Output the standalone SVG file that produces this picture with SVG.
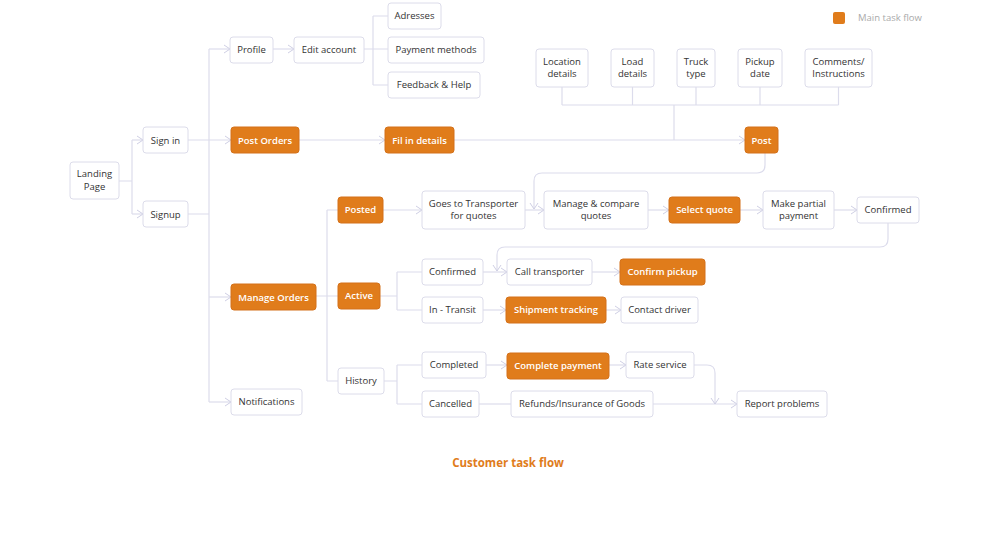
<svg xmlns="http://www.w3.org/2000/svg" width="1000" height="537" viewBox="0 0 1000 537">
<style>
.n rect{fill:#fff;stroke:#dcdcea;stroke-width:1}
.o rect{fill:#e07c1b;stroke:#d4711a;stroke-width:1}
text{font-family:"Open Sans","Noto Sans","Liberation Sans",sans-serif;font-size:9.5px;fill:#333;text-anchor:middle}
.o text{fill:#fff;font-weight:600;font-size:9.5px}
.c path{fill:none;stroke:#dcdcec;stroke-width:1.2}
.t{font-size:11.5px;font-weight:700;fill:#e07c1b}
.lg{font-size:9.5px;fill:#aaa;text-anchor:start}
</style>
<defs>
<marker id="a" viewBox="0 0 8 10" refX="7" refY="5" markerWidth="8" markerHeight="10" markerUnits="userSpaceOnUse" orient="auto">
<path d="M1,1 L7,5 L1,9" fill="none" stroke="#cfcfe4" stroke-width="1"/>
</marker>
</defs>
<rect width="1000" height="537" fill="#fff"/>
<g class="c">
<path d="M119,181 H132 M132,140 V214"/>
<path d="M132,140 H143" marker-end="url(#a)"/>
<path d="M132,214 H143" marker-end="url(#a)"/>
<path d="M188,140 H231" marker-end="url(#a)"/>
<path d="M188,214 H209 M209,49 V402"/>
<path d="M209,49 H230" marker-end="url(#a)"/>
<path d="M209,297 H231" marker-end="url(#a)"/>
<path d="M209,402 H231" marker-end="url(#a)"/>
<path d="M273,49 H294" marker-end="url(#a)"/>
<path d="M364,49 H388 M373,16 V85 M373,16 H388 M373,85 H388"/>
<path d="M299,140 H385" marker-end="url(#a)"/>
<path d="M454,140 H745" marker-end="url(#a)"/>
<path d="M562,87 V105 M632.5,87 V105 M696,87 V105 M760,87 V105 M838.5,87 V105 M562,105 H838.5 M674,105 V140"/>
<path d="M765,153 V165 Q765,173 757,173 H542 Q534,173 534,181 V209" marker-end="url(#a)"/>
<path d="M525,210 H544" marker-end="url(#a)"/>
<path d="M648,210 H669" marker-end="url(#a)"/>
<path d="M740,210 H763" marker-end="url(#a)"/>
<path d="M834,210 H857" marker-end="url(#a)"/>
<path d="M888,223 V239 Q888,247 880,247 H505 Q497,247 497,255 V271" marker-end="url(#a)"/>
<path d="M316,296 H338 M327,210 V381 M327,210 H338 M327,381 H338"/>
<path d="M383,210 H422" marker-end="url(#a)"/>
<path d="M380,296 H397 M397,272 V310 M397,272 H422 M397,310 H422"/>
<path d="M483,272 H507" marker-end="url(#a)"/>
<path d="M592,272 H620" marker-end="url(#a)"/>
<path d="M483,310 H506" marker-end="url(#a)"/>
<path d="M606,310 H621" marker-end="url(#a)"/>
<path d="M384,381 H397 M397,365 V404 M397,365 H422 M397,404 H422"/>
<path d="M486,365 H507" marker-end="url(#a)"/>
<path d="M609,365 H626" marker-end="url(#a)"/>
<path d="M479,404 H511"/>
<path d="M653,404 H737" marker-end="url(#a)"/>
<path d="M694,365 H707 Q715,365 715,373 V404" marker-end="url(#a)"/>
</g>
<g id="landing" class="n"><rect x="70" y="162" width="49" height="37" rx="3"/><text x="94.5" y="177">Landing</text><text x="94.5" y="190">Page</text></g>
<g id="signin" class="n"><rect x="143" y="127" width="45" height="26" rx="3"/><text x="165.5" y="143.5">Sign in</text></g>
<g id="signup" class="n"><rect x="143" y="201" width="45" height="26" rx="3"/><text x="165.5" y="217.5">Signup</text></g>
<g id="profile" class="n"><rect x="230" y="37" width="43" height="26" rx="3"/><text x="251.5" y="53">Profile</text></g>
<g id="editaccount" class="n"><rect x="294" y="37" width="70" height="26" rx="3"/><text x="329" y="53">Edit account</text></g>
<g id="adresses" class="n"><rect x="388" y="3" width="53" height="26" rx="3"/><text x="414.5" y="19">Adresses</text></g>
<g id="paymentmethods" class="n"><rect x="388" y="37" width="96" height="26" rx="3"/><text x="436" y="53">Payment methods</text></g>
<g id="feedback" class="n"><rect x="388" y="72" width="92" height="26" rx="3"/><text x="434" y="88">Feedback &amp; Help</text></g>
<g id="postorders" class="o"><rect x="231" y="127" width="68" height="26" rx="3"/><text x="265" y="143.5">Post Orders</text></g>
<g id="filindetails" class="o"><rect x="385" y="127" width="69" height="26" rx="3"/><text x="419.5" y="143.5">Fil in details</text></g>
<g id="post" class="o"><rect x="745" y="127" width="33" height="26" rx="3"/><text x="761.5" y="143.5">Post</text></g>
<g id="location" class="n"><rect x="536" y="49" width="52" height="38" rx="3"/><text x="562" y="64.5">Location</text><text x="562" y="77">details</text></g>
<g id="load" class="n"><rect x="611" y="49" width="43" height="38" rx="3"/><text x="632.5" y="64.5">Load</text><text x="632.5" y="77">details</text></g>
<g id="truck" class="n"><rect x="677" y="49" width="38" height="38" rx="3"/><text x="696" y="64.5">Truck</text><text x="696" y="77">type</text></g>
<g id="pickup" class="n"><rect x="738" y="49" width="44" height="38" rx="3"/><text x="760" y="64.5">Pickup</text><text x="760" y="77">date</text></g>
<g id="comments" class="n"><rect x="805" y="49" width="67" height="38" rx="3"/><text x="838.5" y="64.5">Comments/</text><text x="838.5" y="77">Instructions</text></g>
<g id="legend"><rect x="833" y="12" width="12" height="12" rx="2" fill="#e07c1b"/><text class="lg" x="858" y="21">Main task flow</text></g>
<g id="manageorders" class="o"><rect x="231" y="284" width="85" height="26" rx="3"/><text x="273.5" y="300.5">Manage Orders</text></g>
<g id="notifications" class="n"><rect x="231" y="389" width="71" height="26" rx="3"/><text x="266.5" y="405">Notifications</text></g>
<g id="posted" class="o"><rect x="338" y="197" width="45" height="26" rx="3"/><text x="360.5" y="213">Posted</text></g>
<g id="active" class="o"><rect x="338" y="283" width="42" height="26" rx="3"/><text x="359" y="299">Active</text></g>
<g id="history" class="n"><rect x="338" y="368" width="46" height="26" rx="3"/><text x="361" y="384">History</text></g>
<g id="goes" class="n"><rect x="422" y="191" width="103" height="38" rx="3"/><text x="473.5" y="206.5">Goes to Transporter</text><text x="473.5" y="219">for quotes</text></g>
<g id="manage" class="n"><rect x="544" y="191" width="104" height="38" rx="3"/><text x="596" y="206.5">Manage &amp; compare</text><text x="596" y="219">quotes</text></g>
<g id="selectquote" class="o"><rect x="669" y="197" width="71" height="26" rx="3"/><text x="704.5" y="213">Select quote</text></g>
<g id="partial" class="n"><rect x="763" y="191" width="71" height="38" rx="3"/><text x="798.5" y="206.5">Make partial</text><text x="798.5" y="219">payment</text></g>
<g id="confirmed1" class="n"><rect x="857" y="197" width="62" height="26" rx="3"/><text x="888" y="213">Confirmed</text></g>
<g id="confirmed2" class="n"><rect x="422" y="259" width="61" height="26" rx="3"/><text x="452.5" y="275">Confirmed</text></g>
<g id="calltransporter" class="n"><rect x="507" y="259" width="85" height="26" rx="3"/><text x="549.5" y="275">Call transporter</text></g>
<g id="confirmpickup" class="o"><rect x="620" y="259" width="85" height="26" rx="3"/><text x="662.5" y="275">Confirm pickup</text></g>
<g id="intransit" class="n"><rect x="422" y="297" width="61" height="26" rx="3"/><text x="452.5" y="313">In - Transit</text></g>
<g id="shipment" class="o"><rect x="506" y="297" width="100" height="26" rx="3"/><text x="556" y="313">Shipment tracking</text></g>
<g id="contact" class="n"><rect x="621" y="297" width="77" height="26" rx="3"/><text x="659.5" y="313">Contact driver</text></g>
<g id="completed" class="n"><rect x="422" y="352" width="64" height="26" rx="3"/><text x="454" y="368">Completed</text></g>
<g id="completepayment" class="o"><rect x="507" y="353" width="102" height="26" rx="3"/><text x="558" y="368.5">Complete payment</text></g>
<g id="rate" class="n"><rect x="626" y="352" width="68" height="26" rx="3"/><text x="660" y="368">Rate service</text></g>
<g id="cancelled" class="n"><rect x="422" y="391" width="57" height="26" rx="3"/><text x="450.5" y="407">Cancelled</text></g>
<g id="refunds" class="n"><rect x="511" y="391" width="142" height="26" rx="3"/><text x="582" y="407">Refunds/Insurance of Goods</text></g>
<g id="report" class="n"><rect x="737" y="391" width="90" height="26" rx="3"/><text x="782" y="407">Report problems</text></g>
<text class="t" x="508" y="467">Customer task flow</text>
</svg>
